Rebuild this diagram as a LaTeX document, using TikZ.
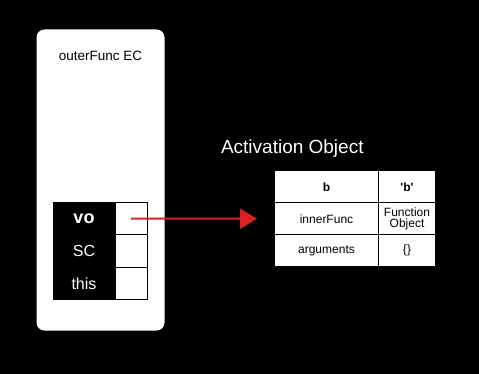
\documentclass[tikz,border=0pt]{standalone}
\usepackage{fontspec}
\setmainfont{Liberation Sans}
\usetikzlibrary{positioning, arrows.meta}

\definecolor{linkred}{RGB}{222,32,36}

\begin{document}
\begin{tikzpicture}[x=1pt, y=-1pt, node distance=0pt, outer sep=0pt,
        every node/.style={inner sep=0pt, anchor=north west},
        keycell/.style={draw=black, fill=black, text=white, line width=1pt, minimum width=62pt, minimum height=32.33pt, font=\fontsize{16}{18}\selectfont},
        valcell/.style={draw=black, fill=white, line width=1pt, minimum width=32pt, minimum height=32.33pt},
        aocell/.style={draw=black, fill=white, line width=1pt, minimum height=31.83pt, align=center, font=\fontsize{12}{11}\selectfont}]
        \fill[black] (0,0) rectangle (479,374);
        \useasboundingbox (0,0) rectangle (479,374);

        % outer execution context
        \node (ec) [fill=white, rounded corners=8pt, minimum width=128pt, minimum height=301pt] at (36.5,29.5) {};
        \node (ectitle) [anchor=base, font=\fontsize{13.5}{15}\selectfont] at (100.5,60.7) {outerFunc EC};

        \node (vo) [keycell, font=\fontsize{18}{20}\selectfont\bfseries] at (53,202.5) {vo};
        \node (voval) [valcell, right=of vo] {};
        \node (sc) [keycell, below=of vo] {SC};
        \node (scval) [valcell, right=of sc] {};
        \node (this) [keycell, below=of sc] {this};
        \node (thisval) [valcell, right=of this] {};

        % activation object
        \node (aotitle) [anchor=base, text=white, font=\fontsize{19}{21}\selectfont] at (292.3,154) {Activation Object};

        \node (bkey) [aocell, minimum width=104pt, font=\fontsize{12}{11}\selectfont\bfseries] at (274.5,171) {b};
        \node (bval) [aocell, minimum width=57pt, font=\fontsize{12}{11}\selectfont\bfseries, right=of bkey] {\textquotesingle b\textquotesingle};
        \node (innerkey) [aocell, minimum width=104pt, below=of bkey] {innerFunc};
        \node (innerval) [aocell, minimum width=57pt, right=of innerkey] {Function\\Object};
        \node (argkey) [aocell, minimum width=104pt, below=of innerkey] {arguments};
        \node (argval) [aocell, minimum width=57pt, right=of argkey] {\{\}};

        \draw[linkred, line width=2pt, shorten >=17.5pt, -{Triangle[length=17pt, width=20pt]}] (voval.center) -- (innerkey.west);
    \end{tikzpicture}
\end{document}
